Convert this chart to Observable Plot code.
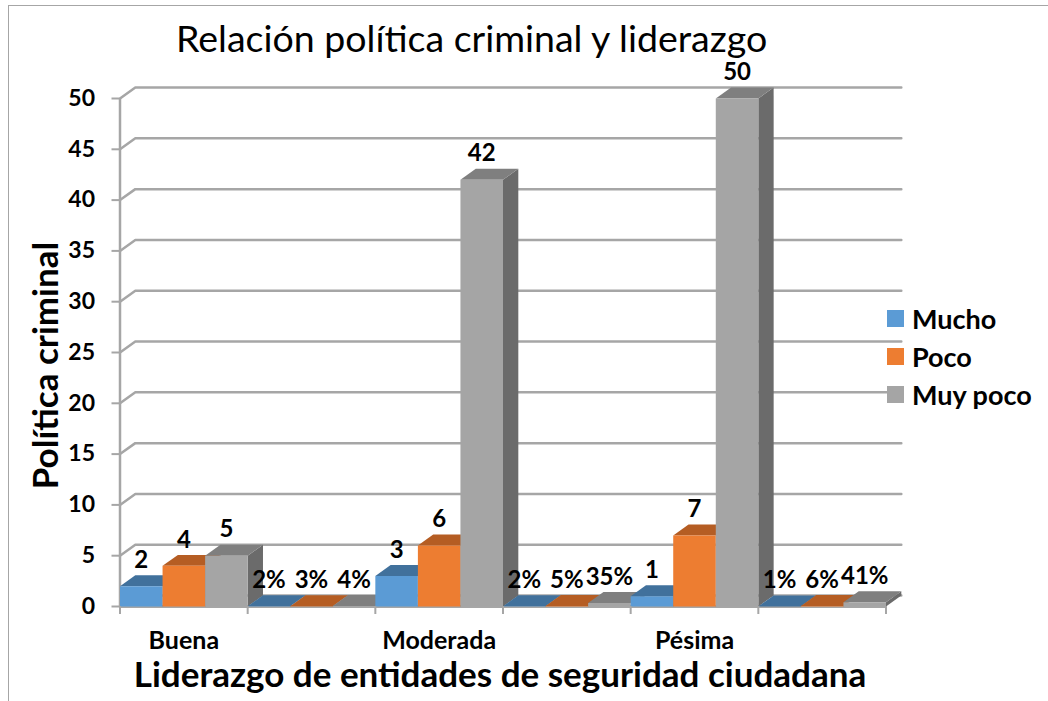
<!DOCTYPE html>
<html lang="es">
<head>
<meta charset="utf-8">
<script src="https://cdn.jsdelivr.net/npm/d3@7"></script>
<script src="https://cdn.jsdelivr.net/npm/@observablehq/plot@0.6"></script>
<style>
html,body{margin:0;padding:0;background:#fff;}
#wrap{position:relative;width:1048px;height:701px;overflow:hidden;font-family:Lato,"Open Sans",sans-serif;}
#frame{position:absolute;left:8px;top:5px;right:-5px;bottom:-5px;border:1.5px solid #a6a6a6;}
#title{position:absolute;left:176px;top:13px;font-size:37.5px;line-height:50px;color:#000;white-space:nowrap;}
#legend{position:absolute;left:887px;top:299px;}
.item{display:flex;align-items:center;height:38px;font-weight:700;font-size:27px;color:#000;white-space:nowrap;}
.sw{width:17px;height:17px;margin-right:8px;}
svg{position:absolute;left:0;top:0;}
</style>
</head>
<body>
<div id="wrap">
  <div id="frame"></div>
  <div id="chart"></div>
  <div id="title"></div>
  <div id="legend"></div>
</div>
<script>
const titleText = "Relación política criminal y liderazgo";
const xTitle = "Liderazgo de entidades de seguridad ciudadana";
const yTitle = "Política criminal";
const categories = ["Buena", "Moderada", "Pésima"];
const seriesNames = ["Mucho", "Poco", "Muy poco"];
// six slots along the axis: count groups alternate with percentage groups
const mucho   = [2, 0.02, 3, 0.02, 1, 0.01];
const poco    = [4, 0.03, 6, 0.05, 7, 0.06];
const muyPoco = [5, 0.04, 42, 0.35, 50, 0.41];
const frontColors = ["#5b9bd5", "#ed7d31", "#a5a5a5"];
const topColors   = ["#41719c", "#b55d23", "#7f7f7f"];
const sideColors  = ["#3b678f", "#a5541f", "#6b6b6b"];
const gridColor = "#a6a6a6";
const yTicks = d3.range(0, 51, 5);
const depthX = 0.12;   // x-units of the 3D depth
const depthY = 1.08;   // y-units of the 3D depth

const bars = [mucho, poco, muyPoco].flatMap((vals, s) =>
  vals.map((v, g) => ({
    s, g, v,
    x1: g + s / 3,
    x2: g + (s + 1) / 3,
    label: g % 2 ? Math.round(v * 100) + "%" : String(v)
  }))
).sort((a, b) => a.g - b.g || a.s - b.s);

const face = (pts, id, fill) => pts.map(([x, y]) => ({x, y, id, fill}));
const faces = bars.flatMap((b, i) => [
  ...face([[b.x2, 0], [b.x2 + depthX, depthY], [b.x2 + depthX, b.v + depthY], [b.x2, b.v]], i + "s", sideColors[b.s]),
  ...face([[b.x1, b.v], [b.x1 + depthX, b.v + depthY], [b.x2 + depthX, b.v + depthY], [b.x2, b.v]], i + "t", topColors[b.s]),
  ...face([[b.x1, 0], [b.x1, b.v], [b.x2, b.v], [b.x2, 0]], i + "f", frontColors[b.s])
]);
const gridPts = yTicks.flatMap(v => [
  {x: 0, y: v, v}, {x: depthX, y: v + depthY, v}, {x: 6 + depthX, y: v + depthY, v}
]);

const chart = Plot.plot({
  width: 1048, height: 701,
  marginLeft: 119.5, marginRight: 162.5, marginTop: 98, marginBottom: 95,
  style: {background: "transparent", color: "#000", fontFamily: "Lato, 'Open Sans', sans-serif"},
  x: {domain: [0, 6]},
  y: {domain: [0, 50]},
  color: {type: "identity"},
  marks: [
    Plot.line(gridPts, {x: "x", y: "y", z: "v", stroke: gridColor, strokeWidth: 2.5, strokeLinejoin: "miter"}),
    Plot.ruleX([0], {y1: 0, y2: 50, stroke: gridColor, strokeWidth: 2.5}),
    Plot.ruleY([0], {x1: 0, x2: 6, stroke: gridColor, strokeWidth: 3}),
    Plot.line(faces, {x: "x", y: "y", z: "id", fill: "fill", stroke: null, curve: "linear-closed"}),
    Plot.axisY({ticks: yTicks, tickSize: 8, tickPadding: 17, stroke: gridColor, strokeWidth: 2, fontSize: 23, fontWeight: 700, label: null}),
    Plot.axisX({ticks: d3.range(0, 7), tickSize: 8, stroke: gridColor, strokeWidth: 2, tickFormat: () => "", label: null}),
    Plot.axisX({ticks: categories.map((c, i) => i * 2 + 0.5), tickSize: 0, tickPadding: 25, tickFormat: t => categories[(t - 0.5) / 2], fontSize: 25, fontWeight: 700, label: null}),
    Plot.text(bars, {x: d => (d.x1 + d.x2) / 2, y: d => d.v + depthY, text: "label", dy: -15, fontSize: 24, fontWeight: 700, fill: "#000"}),
    Plot.text([xTitle], {frameAnchor: "bottom", dx: -3, dy: 80, text: d => d, lineAnchor: "bottom", fontSize: 35, fontWeight: 700, fill: "#000"}),
    Plot.text([yTitle], {frameAnchor: "left", dx: -73, dy: 13, text: d => d, textAnchor: "middle", rotate: -90, fontSize: 35, fontWeight: 700, fill: "#000"})
  ]
});
document.getElementById("chart").appendChild(chart);
document.getElementById("title").textContent = titleText;
document.getElementById("legend").innerHTML = seriesNames.map((n, i) =>
  `<div class="item"><span class="sw" style="background:${frontColors[i]}"></span>${n}</div>`).join("");
</script>
</body>
</html>
